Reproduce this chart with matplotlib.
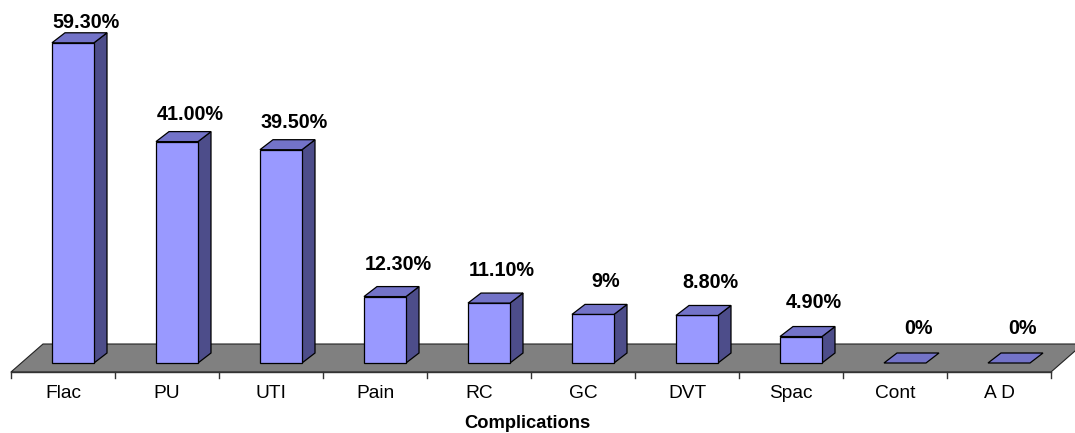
import matplotlib
matplotlib.use("Agg")
import matplotlib.pyplot as plt
from matplotlib.patches import Polygon

categories = ["Flac", "PU", "UTI", "Pain", "RC", "GC", "DVT", "Spac", "Cont", "A D"]
values = [59.3, 41.0, 39.5, 12.3, 11.1, 9.0, 8.8, 4.9, 0.0, 0.0]
value_labels = ["59.30%", "41.00%", "39.50%", "12.30%", "11.10%", "9%", "8.80%", "4.90%", "0%", "0%"]
x_title = "Complications"

plt.rcParams['font.family'] = ['Liberation Sans', 'DejaVu Sans']

W, H = 1075, 433
fig = plt.figure(figsize=(W / 100, H / 100), dpi=100)
ax = fig.add_axes([0, 0, 1, 1])
ax.set_axis_off()

# pixel-scale helpers (category units and percent units)
px_per_cat = 104.0
px_per_pct = 5.4
x_left_px = 11.0
y_zero_px = 363.0

ax.set_xlim(-x_left_px / px_per_cat - 0.5, (W - x_left_px) / px_per_cat - 0.5)
ax.set_ylim(-(H - y_zero_px) / px_per_pct, y_zero_px / px_per_pct)

def dxp(px):
    return px / px_per_cat

def dyp(px):
    return px / px_per_pct

n = len(categories)
# floor
f_front = -dyp(9)
f_back = f_front + dyp(28)
f_dx = dxp(32)
floor = Polygon([(-0.5, f_front), (n - 0.5, f_front), (n - 0.5 + f_dx, f_back), (-0.5 + f_dx, f_back)],
                closed=True, facecolor="#808080", edgecolor="#222222", linewidth=0.8, zorder=1)
ax.add_patch(floor)
# axis line and ticks
ax.plot([-0.5, n - 0.5], [f_front, f_front], color="#333333", lw=1.0, zorder=2)
for i in range(n + 1):
    ax.plot([i - 0.5, i - 0.5], [f_front, f_front - dyp(6)], color="#333333", lw=1.0, zorder=2)

front_col = "#9999FF"
top_col = "#7373C8"
side_col = "#4D4D8A"
bw = dxp(42)
bdx = dxp(13)
bdy = dyp(10)
shift = dxp(10)

for i, v in enumerate(values):
    x0 = i + shift - bw / 2
    x1 = x0 + bw
    if v > 0:
        ax.add_patch(Polygon([(x1, 0), (x1 + bdx, bdy), (x1 + bdx, v + bdy), (x1, v)], closed=True,
                             facecolor=side_col, edgecolor="black", lw=0.9, zorder=3))
        ax.add_patch(Polygon([(x0, 0), (x1, 0), (x1, v), (x0, v)], closed=True,
                             facecolor=front_col, edgecolor="black", lw=0.9, zorder=3))
    ax.add_patch(Polygon([(x0, v), (x1, v), (x1 + bdx, v + bdy), (x0 + bdx, v + bdy)], closed=True,
                         facecolor=top_col, edgecolor="black", lw=0.9, zorder=3))
    gap = dyp(25 - 0.2 * v)
    ly = min(v + bdy + gap, dyp(y_zero_px - 23))
    ax.text(i + shift + bdx, ly, value_labels[i], ha="center", va="center",
            fontsize=14.2, fontweight="bold", color="black", zorder=5)
    ax.text(i, -dyp(394 - y_zero_px), categories[i], ha="center", va="center",
            fontsize=13.8, color="black", zorder=5)

ax.text((527 - x_left_px) / px_per_cat - 0.5, -dyp(424 - y_zero_px), x_title, ha="center", va="center",
        fontsize=13.2, fontweight="bold", color="black")

fig.savefig("out.png", dpi=100)
